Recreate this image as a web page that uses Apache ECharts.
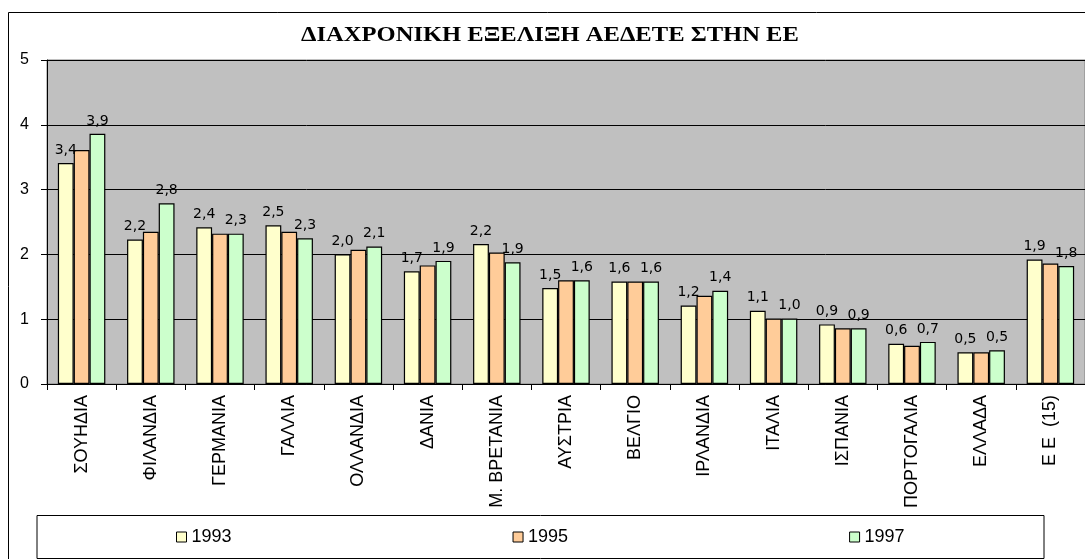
<!doctype html>
<html>
    <head>
        <meta charset="utf-8">
        <title>ΑΕΔΕΤΕ</title>
        <style>
            html, body { margin: 0; padding: 0; background: #fff; }
            #main { width: 1085px; height: 559px; }
        </style>
    </head>
    <body>
        <div id="main"></div>
        <script src="https://cdn.jsdelivr.net/npm/echarts@6/dist/echarts.min.js"></script>
        <script>
            var countries = ['ΣΟΥΗΔΙΑ', 'ΦΙΛΑΝΔΙΑ', 'ΓΕΡΜΑΝΙΑ', 'ΓΑΛΛΙΑ', 'ΟΛΛΑΝΔΙΑ', 'ΔΑΝΙΑ',
                'Μ. ΒΡΕΤΑΝΙΑ', 'ΑΥΣΤΡΙΑ', 'ΒΕΛΓΙΟ', 'ΙΡΛΑΝΔΙΑ', 'ΙΤΑΛΙΑ', 'ΙΣΠΑΝΙΑ',
                'ΠΟΡΤΟΓΑΛΙΑ', 'ΕΛΛΑΔΑ', 'Ε Ε  (15)'];
            var years = ['1993', '1995', '1997'];
            var y1993 = [3.41, 2.23, 2.42, 2.45, 2.00, 1.74, 2.16, 1.48, 1.58, 1.21, 1.13, 0.92, 0.62, 0.49, 1.92];
            var y1995 = [3.61, 2.35, 2.32, 2.35, 2.07, 1.83, 2.03, 1.60, 1.58, 1.36, 1.01, 0.86, 0.59, 0.49, 1.86];
            var y1997 = [3.86, 2.79, 2.32, 2.25, 2.12, 1.90, 1.88, 1.60, 1.58, 1.44, 1.01, 0.86, 0.65, 0.52, 1.82];
            var colors = ['#ffffcc', '#ffcc99', '#ccffcc'];
            var titleText = 'ΔΙΑΧΡΟΝΙΚΗ ΕΞΕΛΙΞΗ ΑΕΔΕΤΕ ΣΤΗΝ ΕΕ';

            var chart = echarts.init(document.getElementById('main'));

            function comma(p) {
                return p.value.toFixed(1).replace('.', ',');
            }

            function bars(name, data, color, showLabel) {
                return {
                    name: name,
                    type: 'bar',
                    data: data,
                    barGap: '0%',
                    barCategoryGap: '31.4%',
                    itemStyle: { color: color, borderColor: '#000', borderWidth: 1.2 },
                    label: {
                        show: showLabel,
                        position: 'top',
                        distance: 6,
                        color: '#000',
                        fontFamily: 'DejaVu Sans',
                        fontSize: 14,
                        formatter: comma
                    },
                    emphasis: { disabled: true }
                };
            }

            chart.setOption({
                animation: false,
                graphic: [{
                    type: 'rect',
                    shape: { x: 8.5, y: 12.5, width: 1200, height: 700 },
                    style: { fill: null, stroke: '#000', lineWidth: 1 },
                    z: 0
                }, {
                    type: 'rect',
                    shape: { x: 37, y: 515.5, width: 1007, height: 43 },
                    style: { fill: '#fff', stroke: '#000', lineWidth: 1 },
                    z: 1
                }, {
                    // title is stretched sideways like in the original
                    type: 'text',
                    x: 550,
                    y: 36,
                    scaleX: 1.17,
                    style: {
                        text: titleText,
                        align: 'center',
                        verticalAlign: 'middle',
                        fontFamily: 'Liberation Serif',
                        fontWeight: 'bold',
                        fontSize: 21,
                        fill: '#000'
                    },
                    z: 5
                }],
                legend: {
                    data: years,
                    left: 176,
                    top: 528,
                    padding: 0,
                    itemGap: 281,
                    itemWidth: 10,
                    itemHeight: 10,
                    icon: 'rect',
                    itemStyle: { borderColor: '#000', borderWidth: 1 },
                    textStyle: { fontFamily: 'Liberation Sans', fontSize: 18, color: '#000' },
                    z: 5
                },
                grid: {
                    left: 47,
                    top: 60,
                    width: 1050,
                    height: 324,
                    show: true,
                    backgroundColor: '#c0c0c0',
                    borderColor: '#808080',
                    borderWidth: 1
                },
                xAxis: {
                    type: 'category',
                    data: countries,
                    axisLine: { lineStyle: { color: '#000', width: 1 } },
                    axisTick: { show: true, length: 6, lineStyle: { color: '#000' } },
                    axisLabel: {
                        interval: 0,
                        rotate: 90,
                        margin: 11,
                        color: '#000',
                        fontFamily: 'Liberation Sans',
                        fontSize: 18
                    }
                },
                yAxis: {
                    type: 'value',
                    min: 0,
                    max: 5,
                    interval: 1,
                    axisLine: { show: true, lineStyle: { color: '#000', width: 1 } },
                    axisTick: { show: true, length: 6, lineStyle: { color: '#000' } },
                    axisLabel: {
                        margin: 18,
                        color: '#000',
                        fontFamily: 'Liberation Sans',
                        fontSize: 16
                    },
                    splitLine: { show: true, lineStyle: { color: '#000', width: 1 } }
                },
                series: [
                    bars(years[0], y1993, colors[0], true),
                    bars(years[1], y1995, colors[1], false),
                    bars(years[2], y1997, colors[2], true)
                ]
            });

            window.onresize = chart.resize;
        </script>
    </body>
</html>
